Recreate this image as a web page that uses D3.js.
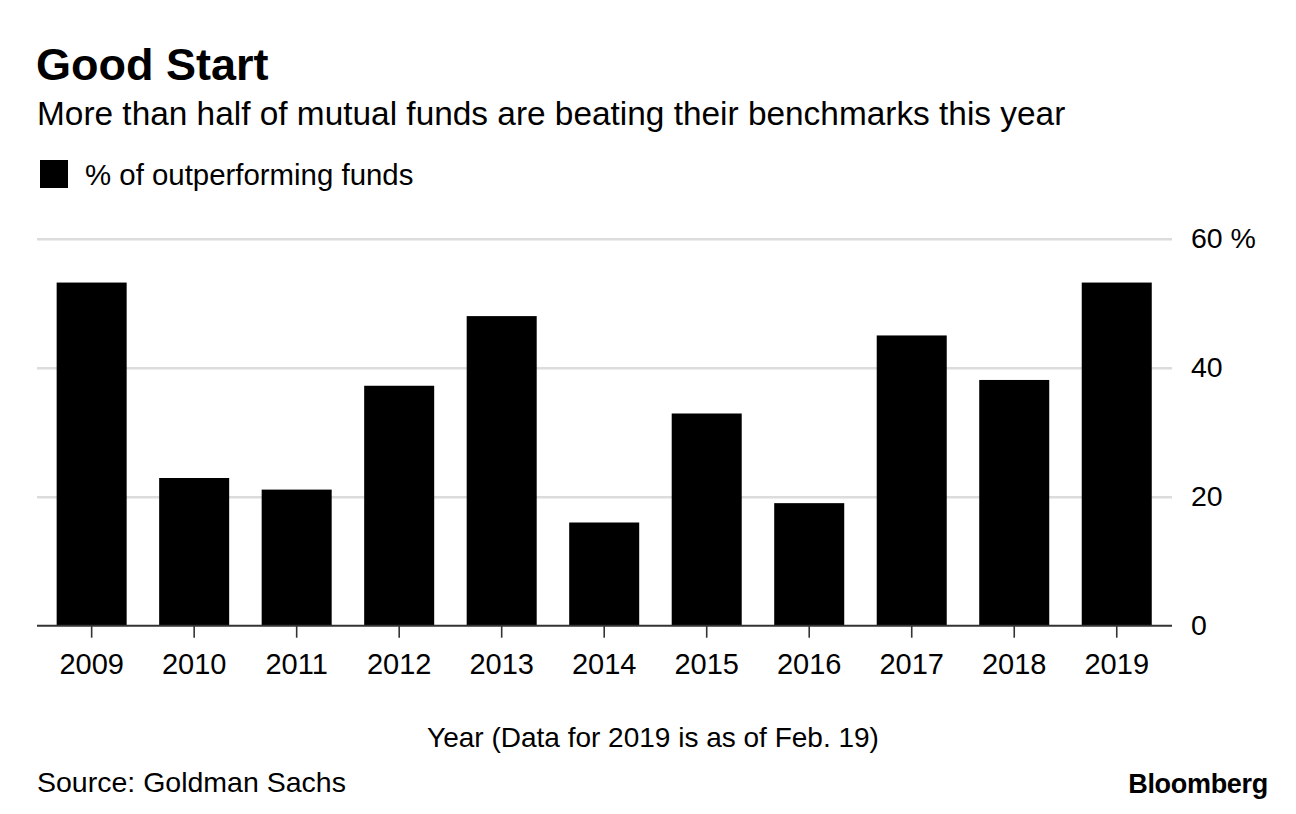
<!DOCTYPE html>
<html>
<head>
<meta charset="utf-8">
<script src="https://cdn.jsdelivr.net/npm/d3@7"></script>
<style>
  body { margin: 0; background: #fff; }
  svg { font-family: "Liberation Sans", Arial, sans-serif; }
</style>
</head>
<body>
<div class="canvas"></div>
<script>
// data
const years = ['2009', '2010', '2011', '2012', '2013', '2014', '2015', '2016', '2017', '2018', '2019']
const outperforming = [53.2, 22.9, 21.1, 37.2, 48.0, 16.0, 32.9, 19.0, 45.0, 38.1, 53.2]
const yTicks = [0, 20, 40, 60]

const seriesName = '% of outperforming funds'
const title = 'Good Start'
const subtitle = 'More than half of mutual funds are beating their benchmarks this year'
const xTitle = 'Year (Data for 2019 is as of Feb. 19)'
const source = 'Source: Goldman Sachs'

const width = 1296
const height = 814

const svg = d3.select('.canvas')
    .append('svg')
    .attr('width', width)
    .attr('height', height)

const plot = { left: 37, right: 1172, top: 238.7, bottom: 625.7 }

// scales
const x = d3.scaleBand()
    .domain(years)
    .range([40.4, 1168])
    .paddingInner(0.317)
    .paddingOuter(0.1585)

const y = d3.scaleLinear()
    .domain([0, 60])
    .range([plot.bottom, plot.top])

// header
svg.append('text')
    .attr('x', 36)
    .attr('y', 80)
    .attr('font-size', 45)
    .attr('font-weight', 'bold')
    .attr('fill', '#000')
    .text(title)

svg.append('text')
    .attr('x', 37)
    .attr('y', 125)
    .attr('font-size', 33.4)
    .attr('fill', '#000')
    .text(subtitle)

// legend
svg.append('rect')
    .attr('x', 40)
    .attr('y', 160)
    .attr('width', 28)
    .attr('height', 28)
    .attr('fill', '#000')

svg.append('text')
    .attr('x', 85)
    .attr('y', 185)
    .attr('font-size', 29.4)
    .attr('fill', '#000')
    .text(seriesName)

// gridlines + y labels on the right
const yAxis = d3.axisRight(y)
    .tickValues(yTicks)
    .tickSize(-(plot.right - plot.left))
    .tickPadding(19)
    .tickFormat(d => d === 60 ? d + ' %' : d)

const yAxisGroup = svg.append('g')
    .attr('transform', `translate(${plot.right},0)`)
    .call(yAxis)

yAxisGroup.select('.domain').remove()
yAxisGroup.selectAll('line')
    .attr('stroke', '#dcdcdc')
    .attr('stroke-width', 2.5)
    .attr('opacity', d => d === 0 ? 0 : 1)
yAxisGroup.selectAll('text')
    .attr('font-size', 28.5)
    .attr('fill', '#000')
    .attr('font-family', '"Liberation Sans", Arial, sans-serif')

// bars
svg.append('g')
    .selectAll('rect')
    .data(outperforming)
    .enter()
    .append('rect')
    .attr('x', (d, i) => x(years[i]))
    .attr('y', d => y(d))
    .attr('width', x.bandwidth())
    .attr('height', d => y(0) - y(d))
    .attr('fill', '#000')

// x axis
const xAxis = d3.axisBottom(x)
    .tickSize(12)
    .tickPadding(16)

const xAxisGroup = svg.append('g')
    .attr('transform', `translate(0,${plot.bottom})`)
    .call(xAxis)

xAxisGroup.select('.domain').remove()
xAxisGroup.selectAll('line')
    .attr('stroke', '#333')
    .attr('stroke-width', 1.6)
xAxisGroup.selectAll('text')
    .attr('font-size', 29)
    .attr('fill', '#000')
    .attr('font-family', '"Liberation Sans", Arial, sans-serif')

svg.append('line')
    .attr('x1', plot.left)
    .attr('x2', plot.right)
    .attr('y1', plot.bottom)
    .attr('y2', plot.bottom)
    .attr('stroke', '#333')
    .attr('stroke-width', 2)

// axis title
svg.append('text')
    .attr('x', 653)
    .attr('y', 747)
    .attr('text-anchor', 'middle')
    .attr('font-size', 28)
    .attr('fill', '#000')
    .text(xTitle)

// footer
svg.append('text')
    .attr('x', 37)
    .attr('y', 792)
    .attr('font-size', 28.5)
    .attr('fill', '#000')
    .text(source)

svg.append('text')
    .attr('x', 1268)
    .attr('y', 793)
    .attr('text-anchor', 'end')
    .attr('font-size', 27)
    .attr('font-weight', 'bold')
    .attr('letter-spacing', -0.3)
    .attr('fill', '#000')
    .text('Bloomberg')
</script>
</body>
</html>
